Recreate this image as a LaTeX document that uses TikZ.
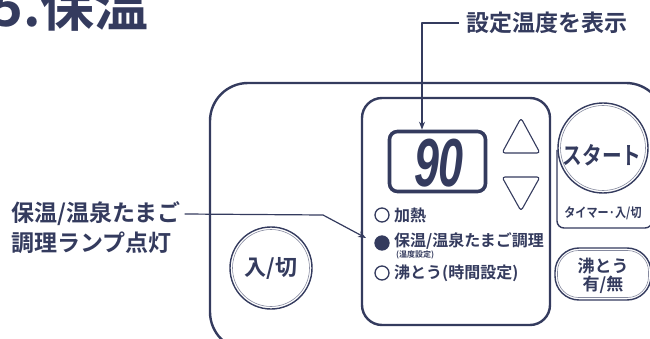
\documentclass[tikz,border=0pt]{standalone}
\usepackage{fontspec}
\newfontfamily\cjk{Noto Sans CJK JP}[BoldFont={Noto Sans CJK JP Bold}]
\newfontfamily\digitfont{Liberation Sans}
\usetikzlibrary{arrows.meta}
\definecolor{navy}{HTML}{343B5E}
\tikzset{
  panel/.style={draw=navy, line width=2.4pt, rounded corners=#1},
  lbl/.style={text=navy, inner sep=0pt, font=\cjk\bfseries\fontsize{23}{23}\selectfont},
  itxt/.style={text=navy, inner sep=0pt, font=\cjk\bfseries\fontsize{16}{16}\selectfont},
  ind/.style={circle, draw=navy, line width=1.3pt, minimum size=14pt, inner sep=0pt},
  callout/.style={draw=navy, line width=1.2pt, -{Stealth[length=8pt,width=6pt]}},
  btnouter/.style={draw=navy, line width=1.4pt},
  btninner/.style={draw=navy!60, line width=0.6pt},
}
\begin{document}
\begin{tikzpicture}[x=1pt,y=-1pt,line join=round]
\useasboundingbox (0,0) rectangle (650,339);
% title
\node[text=navy, inner sep=0pt, anchor=base west,
      font=\cjk\bfseries\fontsize{54}{54}\selectfont] (title) at (-9,27) {5.保温};
% outer panel
\draw[panel=38pt] (210,83) rectangle (664,350);
% inner display panel
\draw[panel=20pt] (362,98) rectangle (550,325);
% display box
\node[draw=navy, line width=3.6pt, rounded corners=8pt, minimum width=96pt,
      minimum height=60pt, inner sep=0pt] (disp) at (437.5,161.5) {};
\node[text=navy, inner sep=0pt,
      font=\digitfont\bfseries\itshape\fontsize{68}{68}\selectfont] (temp) at (439,163) {\scalebox{0.66}[1]{90}};
% up / down triangles
\draw[draw=navy, line width=1.1pt, rounded corners=3pt] (502,153) -- (521,118) -- (540,153) -- cycle;
\draw[draw=navy, line width=1.1pt, rounded corners=3pt] (502,177) -- (540,177) -- (521,211) -- cycle;
% indicators
\node[ind] (i1) at (382,215) {};
\node[ind, fill=navy] (i2) at (382,243) {};
\node[ind] (i3) at (382,273) {};
\node[itxt, anchor=west] (t1) at (394,215) {加熱};
\node[itxt, anchor=west] (t2) at (394,241) {保温/温泉たまご調理};
\node[text=navy, inner sep=0pt, anchor=west, font=\cjk\bfseries\fontsize{8}{8}\selectfont] (t2b) at (396,255) {(温度設定)};
\node[itxt, anchor=west] (t3) at (394,273) {沸とう(時間設定)};
% on/off button
\node[circle, btnouter, minimum size=82pt, inner sep=0pt] (onoff) at (271,268) {};
\node[circle, btninner, minimum size=77pt, inner sep=0pt] (onoffin) at (271,268) {};
\node[text=navy, inner sep=0pt, font=\cjk\bfseries\fontsize{22}{22}\selectfont] (onofftxt) at (271,268) {入/切};
% start button
\draw[btnouter, rounded corners=7pt] (557,150) -- (557,228) -- (652,228) -- (652,150);
\node[circle, btnouter, fill=white, minimum size=90pt, inner sep=0pt] (start) at (603,148) {};
\node[circle, btninner, minimum size=85pt, inner sep=0pt] (startin) at (603,148) {};
\node[text=navy, inner sep=0pt, font=\cjk\bfseries\fontsize{24}{24}\selectfont] (starttxt) at (602,155) {\scalebox{0.82}[1]{スタート}};
\node[text=navy, inner sep=0pt, font=\cjk\bfseries\fontsize{13}{13}\selectfont] (timer) at (603,213) {\scalebox{0.85}[1]{タイマー·入/切}};
% boil button
\node[btnouter, rounded corners=24pt, minimum width=96pt, minimum height=52pt, inner sep=0pt] (boil) at (603,274) {};
\node[btninner, rounded corners=21pt, minimum width=91pt, minimum height=47pt, inner sep=0pt] (boilin) at (603,274) {};
\node[text=navy, inner sep=0pt, align=center,
      font=\cjk\bfseries\fontsize{17}{18}\selectfont] (boiltxt) at (603,276) {沸とう\\有/無};
% callout: set temperature
\node[lbl, anchor=west] (settemp) at (466,23) {設定温度を表示};
\coordinate (c1) at (422,23);
\draw[callout] (settemp.west) ++(-7pt,0) -- (c1) -- (c1 |- disp.north);
% callout: lamp
\node[lbl, anchor=west] (lamp1) at (11,214) {保温/温泉たまご};
\node[lbl, anchor=west] (lamp2) at (11,243) {調理ランプ点灯};
\coordinate (c2) at (323,215);
\coordinate (c3) at (366,238);
\draw[callout] (lamp1.east) ++(4pt,0) -- (c2) -- (c3);
\end{tikzpicture}
\end{document}
